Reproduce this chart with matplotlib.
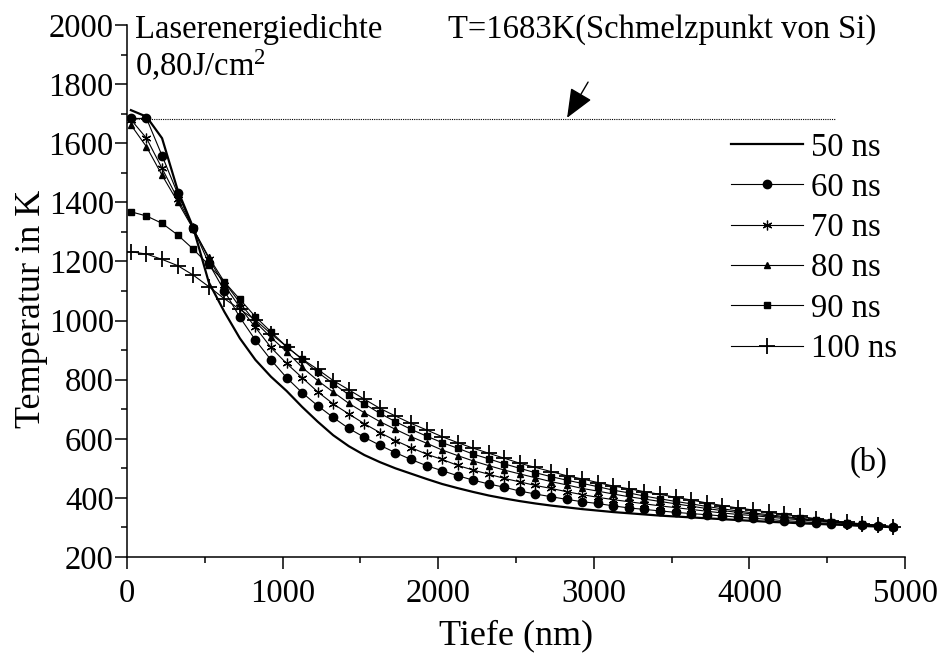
import numpy as np
import matplotlib.pyplot as plt
from matplotlib.ticker import MultipleLocator

plt.rcParams['font.family'] = 'Liberation Serif'
plt.rcParams['mathtext.fontset'] = 'custom'
plt.rcParams['mathtext.rm'] = 'Liberation Serif'
plt.rcParams['mathtext.it'] = 'Liberation Serif:italic'
plt.rcParams['font.size'] = 23.5

# Tiefe in nm (Gitterpunkte alle 100 nm)
tiefe = np.arange(25, 5000, 100)

t_50ns = [1712, 1690, 1617, 1442, 1315, 1130, 1030, 940, 867, 810,
          762, 708, 658, 612, 575, 545, 521, 500, 482, 464,
          447, 433, 420, 408, 398, 389, 381, 374, 368, 362,
          357, 352, 348, 344, 340, 337, 334, 331, 328, 325,
          322, 319, 317, 314, 312, 310, 308, 305, 303, 301]
t_60ns = [1684, 1684, 1558, 1430, 1312, 1194, 1101, 1011, 934, 867,
          807, 756, 712, 672, 635, 605, 578, 553, 530, 509,
          492, 475, 460, 447, 436, 423, 413, 404, 395, 387,
          381, 373, 366, 361, 356, 351, 347, 343, 339, 335,
          331, 327, 323, 320, 316, 313, 310, 307, 304, 301]
t_70ns = [1680, 1617, 1515, 1413, 1312, 1210, 1120, 1045, 977, 909,
          855, 807, 759, 718, 684, 651, 621, 594, 570, 548,
          530, 510, 494, 480, 466, 454, 442, 432, 421, 411,
          402, 394, 387, 380, 373, 367, 361, 355, 349, 344,
          340, 335, 330, 326, 321, 317, 313, 309, 305, 302]
t_80ns = [1662, 1588, 1492, 1402, 1310, 1215, 1131, 1060, 995, 943,
          895, 842, 797, 758, 720, 688, 658, 632, 607, 585,
          562, 543, 525, 509, 494, 481, 468, 455, 444, 432,
          423, 413, 404, 396, 388, 380, 372, 364, 357, 351,
          345, 339, 334, 329, 324, 319, 314, 310, 306, 302]
t_90ns = [1368, 1354, 1329, 1290, 1242, 1188, 1131, 1072, 1013, 962,
          912, 869, 825, 787, 749, 718, 686, 658, 632, 609,
          587, 568, 548, 532, 515, 500, 485, 472, 460, 449,
          438, 426, 417, 406, 397, 388, 380, 371, 363, 356,
          349, 343, 337, 331, 326, 320, 315, 310, 306, 302]
t_100ns = [1233, 1225, 1207, 1186, 1154, 1115, 1074, 1038, 1002, 955,
           912, 870, 835, 797, 766, 734, 703, 677, 652, 630,
           607, 587, 568, 551, 534, 517, 503, 489, 475, 464,
           452, 440, 431, 421, 412, 402, 393, 383, 374, 366,
           359, 351, 344, 337, 330, 323, 317, 312, 307, 303]

schmelzpunkt = 1683

fig = plt.figure(figsize=(9.46, 6.59), dpi=100)
ax = fig.add_axes([0.1343, 0.1548, 0.8224, 0.8072])

ax.plot(tiefe, t_50ns, color='black', lw=1.6, label='50 ns')
ax.plot(tiefe, t_60ns, color='black', lw=0.8, marker='o', ms=6, label='60 ns')
ax.plot(tiefe, t_70ns, color='black', lw=0.8, marker=(6, 2, 0), ms=7, mew=0.9, label='70 ns')
ax.plot(tiefe, t_80ns, color='black', lw=0.8, marker='^', ms=4.5, label='80 ns')
ax.plot(tiefe, t_90ns, color='black', lw=0.8, marker='s', ms=5, label='90 ns')
ax.plot(tiefe, t_100ns, color='black', lw=0.8, marker='+', ms=11, mew=1.3, label='100 ns')

# Schmelzpunkt von Si
ax.plot([0, 4550], [schmelzpunkt, schmelzpunkt], color='black', lw=0.8, ls=(0, (1, 1)))
ax.annotate('', xy=(2828, 1686), xytext=(2963, 1807),
            arrowprops=dict(arrowstyle='-|>,head_length=1.2,head_width=0.5',
                            mutation_scale=15, color='black', lw=1.0,
                            shrinkA=0, shrinkB=0))

ax.set_xlim(0, 5000)
ax.set_ylim(200, 2000)
ax.xaxis.set_major_locator(MultipleLocator(1000))
ax.xaxis.set_minor_locator(MultipleLocator(500))
ax.yaxis.set_major_locator(MultipleLocator(200))
ax.yaxis.set_minor_locator(MultipleLocator(100))
ax.tick_params(which='major', direction='out', length=8.5, width=1.1, labelsize=23.5)
ax.tick_params(which='minor', direction='out', length=4.5, width=1.1)
ax.tick_params(axis='x', pad=7)
ax.tick_params(axis='y', pad=1)
for s in ['top', 'right']:
    ax.spines[s].set_visible(False)
for s in ['left', 'bottom']:
    ax.spines[s].set_linewidth(1.1)

ax.set_xlabel('Tiefe (nm)', fontsize=26)
ax.set_ylabel('Temperatur in K', fontsize=26)
ax.xaxis.set_label_coords(0.5, -0.118)
ax.yaxis.set_label_coords(-0.102, 0.466)

ax.text(0.0103, 0.9756, 'Laserenergiedichte', transform=ax.transAxes, va='baseline')
ax.text(0.0103, 0.904, '0,80J/cm$^{2}$', transform=ax.transAxes, va='baseline')
ax.text(0.4126, 0.9756, 'T=1683K(Schmelzpunkt von Si)', transform=ax.transAxes, va='baseline')
ax.text(0.929, 0.1617, '(b)', transform=ax.transAxes, va='baseline')

ax.legend(loc='upper left', bbox_to_anchor=(731 / 946, 1 - 132 / 659),
          bbox_transform=fig.transFigure, frameon=False, borderpad=0,
          borderaxespad=0, handlelength=2.2, handletextpad=0.24,
          labelspacing=0.3, fontsize=23.5)

fig.savefig('out.png', dpi=100)
